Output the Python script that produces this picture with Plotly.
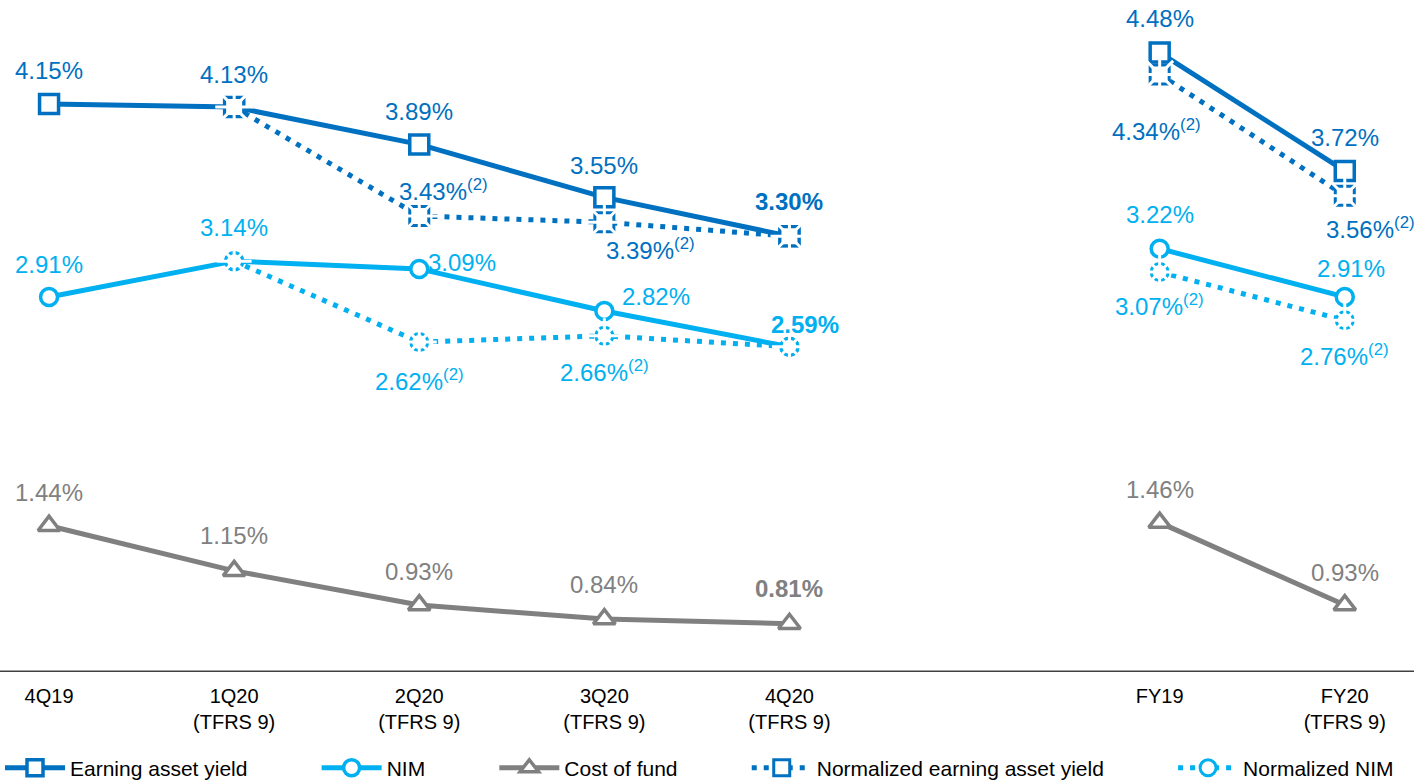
import plotly.graph_objects as go

# Periods shown on the x axis
categories = ["4Q19", "1Q20<br>(TFRS 9)", "2Q20<br>(TFRS 9)", "3Q20<br>(TFRS 9)",
              "4Q20<br>(TFRS 9)", "FY19", "FY20<br>(TFRS 9)"]

# Series values (%)
earning_asset_yield = [4.15, 4.13, 3.89, 3.55, 3.30, 4.48, 3.72]
nim = [2.91, 3.14, 3.09, 2.82, 2.59, 3.22, 2.91]
cost_of_fund = [1.44, 1.15, 0.93, 0.84, 0.81, 1.46, 0.93]
norm_earning_asset_yield = [None, 4.13, 3.43, 3.39, 3.30, 4.34, 3.56]
norm_nim = [None, 3.14, 2.62, 2.66, 2.59, 3.07, 2.76]

# Quarterly block, then an empty slot, then the full-year block
x_slots = [0, 1, 2, 3, 4, 6, 7]

DARK_BLUE = "#0070C0"
LIGHT_BLUE = "#00B0F0"
GREY = "#808080"
FONT = "Liberation Sans, Arial, sans-serif"
PAD = "&nbsp;" * 11  # extra room between legend entries


def with_gap(values):
    """Insert a break between the quarterly and full-year blocks."""
    xs, ys = [], []
    for i, (xv, yv) in enumerate(zip(x_slots, values)):
        if i > 0 and xv - x_slots[i - 1] > 1:
            xs.append(None)
            ys.append(None)
        xs.append(xv)
        ys.append(yv)
    return xs, ys


fig = go.Figure()

solid = [
    ("Earning asset yield" + PAD, earning_asset_yield, DARK_BLUE, "square", 19),
    ("NIM" + PAD, nim, LIGHT_BLUE, "circle", 17),
    ("Cost of fund" + PAD, cost_of_fund, GREY, "triangle-up", 19),
]
for name, vals, col, sym, size in solid:
    xs, ys = with_gap(vals)
    fig.add_trace(go.Scatter(
        x=xs, y=ys, name=name, mode="lines+markers", connectgaps=False,
        line=dict(color=col, width=5),
        marker=dict(symbol=sym, size=size, color="white",
                    line=dict(color=col, width=3.5)),
    ))

dotted = [
    ("Normalized earning asset yield" + PAD, norm_earning_asset_yield, DARK_BLUE, "square", 19),
    ("Normalized NIM", norm_nim, LIGHT_BLUE, "circle", 17),
]
for name, vals, col, sym, size in dotted:
    xs, ys = with_gap(vals)
    fig.add_trace(go.Scatter(
        x=xs, y=ys, name=name, mode="lines+markers", connectgaps=False,
        line=dict(color=col, width=5, dash="5px,7px"),
        marker=dict(symbol=sym, size=size, color="white",
                    line=dict(color=col, width=3)),
    ))
    # white cross and diagonal strokes break the outline into dashes
    for cut in ("cross-thin", "x-thin"):
        fig.add_trace(go.Scatter(
            x=xs, y=ys, mode="markers", showlegend=False, hoverinfo="skip",
            marker=dict(symbol=cut, size=size + 8,
                        line=dict(color="white", width=3)),
        ))

# Value labels: (series, colour, per-point offsets (dx, dy), bold indices, footnote)
label_specs = [
    (earning_asset_yield, DARK_BLUE,
     [(0, 33), (0, 33), (0, 33), (0, 32), (0, 35), (0, 34), (0, 33)], {4}, False),
    (nim, LIGHT_BLUE,
     [(0, 32), (0, 34), (43, 6), (52, 14), (16, 22), (0, 34), (6, 28)], {4}, False),
    (cost_of_fund, GREY,
     [(0, 33), (0, 35), (0, 34), (0, 35), (0, 35), (0, 33), (0, 33)], {4}, False),
    (norm_earning_asset_yield, DARK_BLUE,
     [None, None, (24, 26), (46, -27), None, (-3, -56), (26, -32)], set(), True),
    (norm_nim, LIGHT_BLUE,
     [None, None, (0, -38), (0, -35), None, (0, -33), (0, -35)], set(), True),
]
for vals, col, offsets, bold, footnote in label_specs:
    for i, (v, off) in enumerate(zip(vals, offsets)):
        if v is None or off is None:
            continue
        txt = f"{v:.2f}%"
        if i in bold:
            txt = f"<b>{txt}</b>"
        if footnote:
            txt += "<sup>(2)</sup>"
        fig.add_annotation(
            x=x_slots[i], y=v, xref="x", yref="y", text=txt, showarrow=False,
            xshift=off[0], yshift=off[1],
            font=dict(family=FONT, size=24, color=col),
        )

fig.update_layout(
    width=1414, height=782,
    margin=dict(l=0, r=0, t=0, b=110, autoexpand=False),
    paper_bgcolor="white", plot_bgcolor="white",
    font=dict(family=FONT, color="#000000"),
    showlegend=True,
    legend=dict(
        orientation="h", x=0, xanchor="left", y=-0.143, yanchor="middle",
        font=dict(family=FONT, size=21, color="#000000"),
        itemwidth=60, traceorder="normal", bgcolor="rgba(0,0,0,0)",
    ),
    xaxis=dict(
        range=[-0.265, 7.374], tickmode="array",
        tickvals=x_slots, ticktext=categories,
        showgrid=False, zeroline=False, showline=False, automargin=False,
        ticks="", ticklabelstandoff=10,
        tickfont=dict(family=FONT, size=20, color="#000000"),
        fixedrange=True,
    ),
    yaxis=dict(
        range=[0.5, 4.818], visible=False, showgrid=False, zeroline=False,
        automargin=False, fixedrange=True,
    ),
)

# Baseline across the full width
fig.add_shape(type="line", xref="paper", yref="y", x0=0, x1=1, y0=0.5, y1=0.5,
              line=dict(color="#404040", width=3))

fig.write_html("out.html")
